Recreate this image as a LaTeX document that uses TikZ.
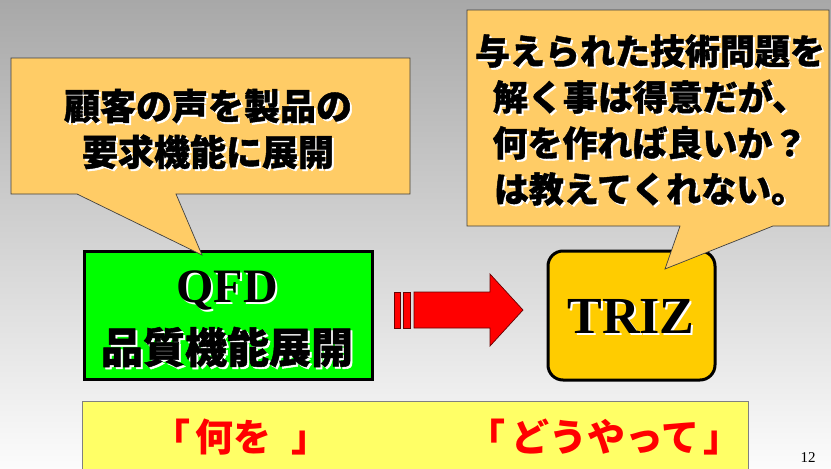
\documentclass[tikz,border=0pt]{standalone}
\usepackage{fontspec}
\setmainfont{Liberation Serif}
\newfontfamily\jp{Noto Sans CJK JP}[BoldFeatures={FakeBold=1.2}]
\newfontfamily\jpred{Noto Sans CJK JP}
\definecolor{bgtop}{RGB}{168,168,168}
\definecolor{bgmid}{RGB}{228,228,228}
\definecolor{bgbot}{RGB}{252,252,252}
\definecolor{calloutfill}{RGB}{255,204,102}
\definecolor{qfdgreen}{RGB}{0,255,0}
\definecolor{trizfill}{RGB}{255,204,0}
\definecolor{notefill}{RGB}{255,255,102}
\definecolor{arrowred}{RGB}{255,0,0}
\tikzset{
  callout/.style={fill=calloutfill, draw=black!75, line width=0.7pt},
  jptext/.style={font=\jp\bfseries\fontsize{#1}{46}\selectfont, align=center, inner sep=0pt},
  jptext/.default=36,
  shadowcopy/.style={text=white},
  boxthick/.style={draw=black, line width=3pt},
  serifbig/.style={font=\bfseries\fontsize{#1}{#1}\selectfont, inner sep=0pt},
  redtext/.style={font=\jpred\bfseries\fontsize{38}{40}\selectfont, text=arrowred, inner sep=0pt, anchor=west},
}
\begin{document}
\begin{tikzpicture}[x=1pt,y=-1pt]
\useasboundingbox (0,0) rectangle (831,469);
\shade[top color=bgtop, middle color=bgmid, bottom color=bgbot] (0,0) rectangle (831,469);

% QFD box
\node[boxthick, fill=qfdgreen, minimum width=288pt, minimum height=128pt, anchor=north west, inner sep=0pt] (qfd) at (82.5,249.5) {};
\node[serifbig=48, shadowcopy] (qfd-s) at (229,292) {QFD};
\node[serifbig=48] (qfd-t) at (227,290) {QFD};
\node[jptext=42, shadowcopy] (qfdjp-s) at (229,349) {品質機能展開};
\node[jptext=42] (qfdjp) at (227,347) {品質機能展開};

% TRIZ box
\node[boxthick, fill=trizfill, rounded corners=15pt, minimum width=167pt, minimum height=129pt, anchor=north west, inner sep=0pt] (triz) at (546.5,249.5) {};
\node[serifbig=52, shadowcopy] (triz-s) at (633,318) {TRIZ};
\node[serifbig=52] (triz-t) at (631,316) {TRIZ};

% block arrow
\draw[fill=arrowred, draw=black!60!red, line width=0.7pt] (394,292) rectangle (400,328);
\draw[fill=arrowred, draw=black!60!red, line width=0.7pt] (403,292) rectangle (410,328);
\draw[fill=arrowred, draw=black!60!red, line width=0.7pt]
  (414,292) -- (490,292) -- (490,274) -- (523,310) -- (490,346) -- (490,328) -- (414,328) -- cycle;

% left callout
\draw[callout] (11,58) -- (410,58) -- (410,194) -- (176,194) -- (202,255) -- (77,194) -- (11,194) -- cycle;
\node[jptext, shadowcopy] (lc-s) at (210,131) {顧客の声を製品の\\要求機能に展開};
\node[jptext] (lc) at (208,129) {顧客の声を製品の\\要求機能に展開};

% right callout
\draw[callout] (467,10) -- (829,10) -- (829,226) -- (773,226) -- (665,269) -- (680,226) -- (467,226) -- cycle;
\node[jptext=35, shadowcopy] (rc-s) at (652,122) {与えられた技術問題を\\解く事は得意だが、\\何を作れば良いか？\\は教えてくれない。};
\node[jptext=35] (rc) at (650,120) {与えられた技術問題を\\解く事は得意だが、\\何を作れば良いか？\\は教えてくれない。};

% bottom note
\node[fill=notefill, draw=black!50, line width=0.6pt, minimum width=666pt, minimum height=80pt, anchor=north west, inner sep=0pt] (note) at (82,401) {};
\node[redtext] (what) at (152,437) {「\hspace{5pt}何を\hspace{20pt}」};
\node[redtext] (how) at (467,437) {「\hspace{6pt}どうやって\hspace{4pt}」};

\node[font=\fontsize{15}{15}\selectfont, inner sep=0pt] (pg) at (808,458) {12};
\end{tikzpicture}
\end{document}
